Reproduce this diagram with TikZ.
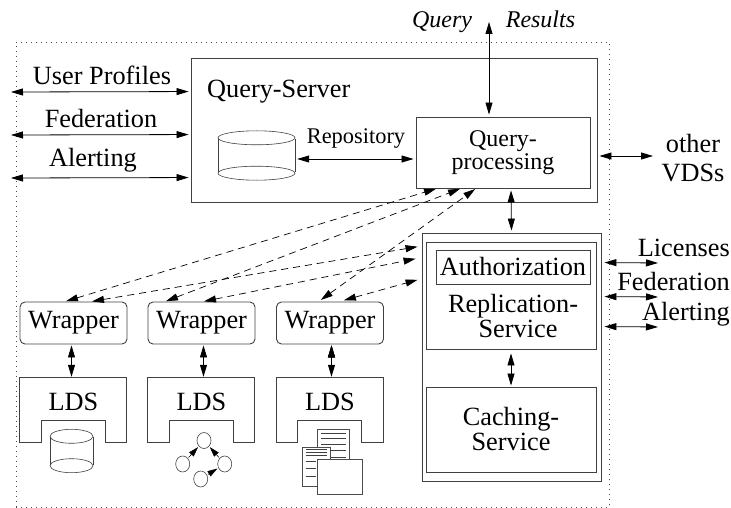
\documentclass[tikz,border=0pt]{standalone}
\usepackage{fontspec}
\setmainfont{Liberation Serif}
\usetikzlibrary{arrows.meta,shapes.geometric}

\newcommand{\drumlines}[1]{%
  \draw[drumline] ([yshift=-7pt]#1.north) ellipse [x radius=0.5*\pgfkeysvalueof{/tikz/drumwidth},y radius=7pt];
  \draw[drumline] ([yshift=7pt]#1.south) ellipse [x radius=0.5*\pgfkeysvalueof{/tikz/drumwidth},y radius=7pt];
  \draw[drumline] ([yshift=-7pt]#1.north west) -- ([yshift=7pt]#1.south west);
  \draw[drumline] ([yshift=-7pt]#1.north east) -- ([yshift=7pt]#1.south east);
}
\tikzset{drumwidth/.initial=77pt}

\begin{document}
\begin{tikzpicture}[x=1pt,y=-1pt,shorten >=1pt,shorten <=1pt,>={Triangle[length=12pt,width=7pt]}]
        \tikzstyle{big}=[font=\fontsize{26.3}{25}\selectfont,inner sep=0pt]
        \tikzstyle{mid}=[font=\fontsize{24}{23}\selectfont,inner sep=0pt]
        \tikzstyle{box}=[draw=black!75,line width=0.9pt,inner sep=0pt,align=center]
        \tikzstyle{wrapper}=[box,big,rounded corners=5pt,minimum width=107pt,minimum height=42pt]
        \tikzstyle{lds}=[big,minimum width=107pt,minimum height=48pt]
        \tikzstyle{drum}=[inner sep=0pt,minimum height=49pt,minimum width=77pt]
        \tikzstyle{drumline}=[draw=black!75,line width=0.6pt]
        \tikzstyle{vertex}=[ellipse,draw=black!75,line width=0.6pt,inner sep=0pt,minimum width=14pt,minimum height=16pt]
        \tikzstyle{page}=[draw=black!70,fill=white,line width=0.9pt]
        \tikzstyle{txtline}=[draw=black!75,line width=0.7pt]

        \useasboundingbox (0,0) rectangle (731,508);
        \node[draw=black!70,line width=0.9pt,dash pattern=on 1.3pt off 3.7pt,minimum width=593pt,minimum height=465pt,inner sep=0pt] (VDS) at (312.5,274.5) { };

        \node[box,minimum width=406pt,minimum height=144pt]  (QS) at (394,130)  { };
        \node[box,mid,minimum width=174pt,minimum height=71pt,font=\fontsize{24}{23}\selectfont]  (QP) at (503,152.5) {Query-\\processing};
        \node[drum]  (DB1) at (256.5,155.5) { };
        \node[big,anchor=base west]  (QStxt) at (207,98) {Query-Server};
        \node[font=\fontsize{22.4}{24}\selectfont,inner sep=0pt,anchor=base]  (Repo) at (356,144) {Repository};

        \node[box,minimum width=179pt,minimum height=248pt]  (RS) at (511.5,357) { };
        \node[box,minimum width=170pt,minimum height=107pt]  (RepS) at (511,295.5) { };
        \node[box,big,minimum width=154pt,minimum height=34pt]  (Auth) at (513,267) {Authorization};
        \node[big,align=center]  (RepT) at (513,316) {Replication-\\\hspace*{10pt}Service};
        \node[box,big,minimum width=170pt,minimum height=85pt]  (CS) at (511,429.5) {Caching-\\Service};

        \node[wrapper,node distance=128pt]  (W1) at (73.5,323) {Wrapper};
        \node[wrapper,node distance=128pt]  (W2) [right of=W1] {Wrapper};
        \node[wrapper,node distance=128.5pt]  (W3) [right of=W2] {Wrapper};
        \node[lds,node distance=79pt]  (L1) [below of=W1] {LDS};
        \node[lds,node distance=79pt]  (L2) [below of=W2] {LDS};
        \node[lds,node distance=79pt]  (L3) [below of=W3] {LDS};
        \draw[box] (L1.north west) -- ++(0,64.5) -- ++(21.5,0) -- ++(0,-21.5) -- ++(64,0) -- ++(0,21.5) -- ++(21.5,0) -- ++(0,-64.5) -- cycle;
        \draw[box] (L2.north west) -- ++(0,64.5) -- ++(21.5,0) -- ++(0,-21.5) -- ++(64,0) -- ++(0,21.5) -- ++(21.5,0) -- ++(0,-64.5) -- cycle;
        \draw[box] (L3.north west) -- ++(0,64.5) -- ++(21.5,0) -- ++(0,-21.5) -- ++(64,0) -- ++(0,21.5) -- ++(21.5,0) -- ++(0,-64.5) -- cycle;

        % the two drums
        \drumlines{DB1}
        \tikzset{drumwidth=43pt}
        \node[drum,minimum width=43pt,minimum height=43pt]  (DB2) at (71.5,451) { };
        \drumlines{DB2}

        % the small graph
        \node[vertex]  (V1) at (204,440.5) { };
        \node[vertex]  (V2) at (182.7,464) { };
        \node[vertex]  (V3) at (224.7,464) { };
        \node[vertex]  (V4) at (200.7,479) { };

        % the documents
        \draw[page] (317,429) rectangle (349,472);
        \foreach \ypos in {433,438,444,450,457}
          \draw[txtline] (320,\ypos) -- (347,\ypos);
        \draw[page] (302,447) rectangle (330,486);
        \foreach \ypos in {449.5,452.5,455.5}
          \draw[txtline] (304.5,\ypos) -- (328,\ypos);
        \foreach \ypos in {461,468,476}
          \draw[txtline] (304.5,\ypos) -- (317,\ypos);
        \draw[page] (317,459) rectangle (362,494);

        % labels and free ends
        \node[big,anchor=base]  (UP) at (102,85)  {User Profiles};
        \node[big,anchor=base]  (FedL) at (101,128) {Federation};
        \node[big,anchor=base]  (AlL) at (93,167)  {Alerting};
        \node[mid,anchor=base]  (Qy) at (442,28) {\itshape Query};
        \node[mid,anchor=base]  (Rs) at (540.5,28) {\itshape Results};
        \node[big,anchor=base]  (Oth) at (693,153) {other};
        \node[big,anchor=base]  (VD) at (693,182) {VDSs};
        \node[big,anchor=base east]  (Lic) at (730,256) {Licenses};
        \node[big,anchor=base east]  (FedR) at (730,290) {Federation};
        \node[big,anchor=base east]  (AlR) at (730,320) {Alerting};
        \coordinate (C1) at (10,92);
        \coordinate (C2) at (10,135);
        \coordinate (C3) at (10,178);
        \coordinate (C4) at (489,21);
        \coordinate (C5) at (654,156);
        \coordinate (C6) at (659,263);
        \coordinate (C7) at (659,297);
        \coordinate (C8) at (659,327);

        \path[<->,draw=black,line width=0.8pt]
                  (C1) edge ([yshift=-34pt,xshift=-1pt]QS.north west)
                  (C2) edge ([yshift=-77pt,xshift=-1pt]QS.north west)
                  (C3) edge ([yshift=-120pt,xshift=-1pt]QS.north west)
                  (C4) edge ([xshift=-14pt,yshift=1pt]QP.north)
                  ([yshift=-3.5pt,xshift=1pt]DB1.east) edge ([yshift=-6.5pt,xshift=-1pt]QP.west)
                  ([xshift=1pt,yshift=-26pt]QS.east) edge (C5)
                  ([xshift=8pt,yshift=-1pt]QP.south) edge ([yshift=1pt]RS.north)
                  ([yshift=-3pt]RepS.south) edge (CS.north)
                  ([xshift=2pt,yshift=-30pt]RS.north east) edge (C6)
                  ([xshift=2pt,yshift=-64pt]RS.north east) edge (C7)
                  ([xshift=2pt,yshift=-94pt]RS.north east) edge (C8)
                  ([xshift=-2pt]W1.south) edge ([xshift=-2pt]L1.north)
                  ([xshift=2pt]W2.south) edge ([xshift=2pt]L2.north)
                  ([xshift=1.5pt]W3.south) edge ([xshift=1.5pt]L3.north);

        \tikzstyle{dasharrow}=[<->,dash pattern=on 7pt off 5pt,line width=0.7pt]
        \draw[dasharrow] ([xshift=-8.5pt]W1.north) -- ([xshift=-66pt]QP.south);
        \draw[dasharrow] ([xshift=-36.5pt]W2.north) -- ([xshift=-42pt]QP.south);
        \draw[dasharrow] ([xshift=-10pt,yshift=1pt]W3.north) -- ([xshift=-27pt]QP.south);
        \draw[dasharrow] ([xshift=17.5pt]W1.north) -- ([xshift=-3pt,yshift=-14pt]RS.north west);
        \draw[dasharrow] ([xshift=1.5pt]W2.north) -- ([xshift=-5pt,yshift=-26pt]RS.north west);
        \draw[dasharrow] ([xshift=13pt,yshift=1pt]W3.north) -- ([xshift=-3pt,yshift=-47pt]RS.north west);

        \path[->,line width=0.6pt,>={Triangle[length=10pt,width=6pt]}]
                  (V2) edge (V1)
                  (V3) edge (V1)
                  (V4) edge (V3);
\end{tikzpicture}
\end{document}
